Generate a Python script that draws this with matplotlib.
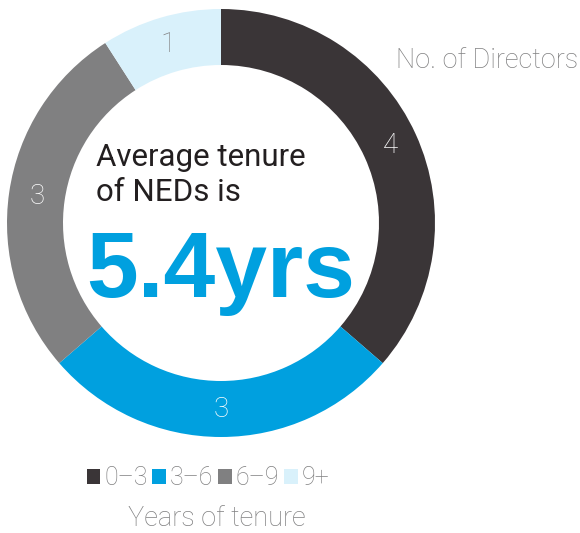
import matplotlib
matplotlib.use("Agg")
import matplotlib.pyplot as plt
import matplotlib.patches as mpatches

# data
categories = ["0–3", "3–6", "6–9", "9+"]
directors = [4, 3, 3, 1]
colors = ["#3a3537", "#00a0df", "#808081", "#d9f1fb"]
label_colors = ["white", "white", "white", "#808081"]

W, H = 580, 533
LIGHT = ["Roboto", "DejaVu Sans"]

fig = plt.figure(figsize=(W / 100, H / 100), dpi=100)
ax = fig.add_axes([0, 0, 1, 1])

wedges, texts = ax.pie(
    directors,
    colors=colors,
    labels=[str(v) for v in directors],
    labeldistance=0.87,
    startangle=90,
    counterclock=False,
    radius=214,
    center=(221, H - 223),
    wedgeprops=dict(width=56, edgecolor="none"),
    textprops=dict(fontsize=20, family=LIGHT, fontweight="light"),
)
for t, c in zip(texts, label_colors):
    t.set_color(c)
    t.set_ha("center")
    t.set_va("center")

ax.set_xlim(0, W)
ax.set_ylim(0, H)
ax.set_aspect("equal")
ax.axis("off")

# last line baseline is the anchor for multi-line text
ax.text(96, H - 201, "Average tenure\nof NEDs is", fontsize=22.5, family=LIGHT,
        fontweight="normal", color="#231f20", ha="left", va="baseline",
        linespacing=1.25)
ax.text(86, H - 297, "5.4yrs", fontsize=67, family=["Liberation Sans"],
        fontweight="bold", color="#00a0df", ha="left", va="baseline")

ax.text(578, H - 60, "No. of Directors", fontsize=19.5, family=LIGHT,
        fontweight="light", color="#808081", ha="right", va="center")

handles = [mpatches.Patch(facecolor=c, edgecolor="none") for c in colors]
leg = ax.legend(handles, categories, ncol=4, loc="center",
                bbox_to_anchor=(208 / W, 1 - 478 / H), frameon=False,
                handlelength=0.55, handleheight=0.55, handletextpad=0.15,
                columnspacing=0.2, borderpad=0,
                prop=dict(size=18, family=LIGHT, weight="light"))
for t in leg.get_texts():
    t.set_color("#808081")

ax.text(217, H - 519, "Years of tenure", fontsize=19.5, family=LIGHT,
        fontweight="light", color="#808081", ha="center", va="center")

fig.savefig("out.png", dpi=100)
